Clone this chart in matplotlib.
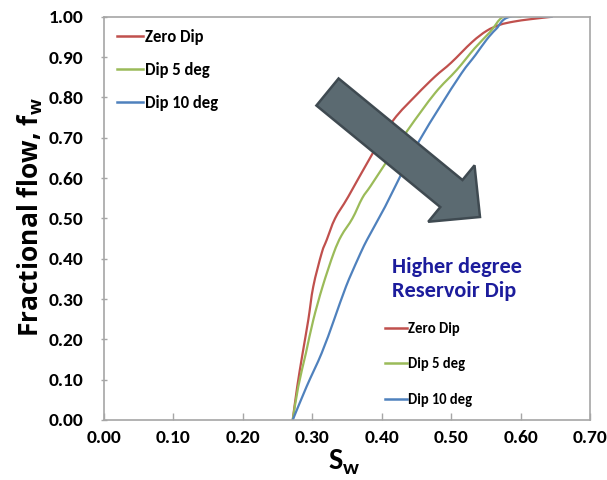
import matplotlib
matplotlib.use("Agg")
import matplotlib.pyplot as plt
from matplotlib.path import Path
from matplotlib.patches import FancyArrow, PathPatch
from matplotlib.transforms import IdentityTransform
from matplotlib.lines import Line2D

plt.rcParams['font.family'] = ['Carlito', 'DejaVu Sans']
plt.rcParams['font.weight'] = 'bold'
plt.rcParams['mathtext.fontset'] = 'custom'
plt.rcParams['mathtext.rm'] = 'Open Sans:bold'   # subscript of the y title
plt.rcParams['mathtext.bf'] = 'Carlito:bold'     # subscript of the x title

# fractional flow curves, water saturation vs fw
sw_zero = [0.272, 0.2785, 0.2863, 0.2944, 0.3016, 0.3137, 0.321, 0.333, 0.352, 0.386,
           0.417, 0.450, 0.477, 0.500, 0.530, 0.551, 0.570, 0.590, 0.614, 0.645]
fw_zero = [0.0, 0.083, 0.166, 0.248, 0.331, 0.414, 0.447, 0.50, 0.554, 0.658,
           0.744, 0.806, 0.852, 0.886, 0.937, 0.965, 0.980, 0.988, 0.994, 1.0]

sw_dip5 = [0.272, 0.280, 0.291, 0.3016, 0.315, 0.331, 0.342, 0.358, 0.372, 0.384,
           0.405, 0.438, 0.477, 0.508, 0.534, 0.556, 0.575, 0.60]
fw_dip5 = [0.0, 0.083, 0.166, 0.248, 0.331, 0.414, 0.457, 0.50, 0.55, 0.58,
           0.635, 0.72, 0.811, 0.868, 0.922, 0.962, 1.0, 1.0]

sw_dip10 = [0.272, 0.292, 0.3137, 0.3314, 0.3487, 0.366, 0.379, 0.405, 0.429, 0.455,
            0.484, 0.515, 0.535, 0.551, 0.565, 0.585, 0.645]
fw_dip10 = [0.0, 0.083, 0.166, 0.248, 0.331, 0.40, 0.447, 0.529, 0.612, 0.695,
            0.777, 0.86, 0.905, 0.943, 0.97, 1.0, 1.0]

labels = ['Zero Dip', 'Dip 5 deg', 'Dip 10 deg']
colors = ['#C0504D', '#9BBB59', '#4F81BD']

x_ticks = [0.0, 0.1, 0.2, 0.3, 0.4, 0.5, 0.6, 0.7]
y_ticks = [0.0, 0.1, 0.2, 0.3, 0.4, 0.5, 0.6, 0.7, 0.8, 0.9, 1.0]


def smooth_path(xs, ys):
    # Catmull-Rom through the points, as cubic Bezier segments (like a smoothed Excel line)
    pts = list(zip(xs, ys))
    n = len(pts)
    verts = [pts[0]]
    codes = [Path.MOVETO]
    for i in range(n - 1):
        p0 = pts[max(i - 1, 0)]
        p1 = pts[i]
        p2 = pts[i + 1]
        p3 = pts[min(i + 2, n - 1)]
        c1 = (p1[0] + (p2[0] - p0[0]) / 6, p1[1] + (p2[1] - p0[1]) / 6)
        c2 = (p2[0] - (p3[0] - p1[0]) / 6, p2[1] - (p3[1] - p1[1]) / 6)
        verts += [c1, c2, p2]
        codes += [Path.CURVE4] * 3
    return Path(verts, codes)


fig = plt.figure(figsize=(6.07, 4.8), dpi=100)
ax = fig.add_axes([0.171, 0.125, 0.801, 0.840])

for sw, fw, c in zip([sw_zero, sw_dip5, sw_dip10], [fw_zero, fw_dip5, fw_dip10], colors):
    ax.add_patch(PathPatch(smooth_path(sw, fw), fill=False, edgecolor=c, lw=1.6, capstyle='round'))
handles = [Line2D([], [], color=c, lw=1.8) for c in colors]

ax.set_xlim(0, 0.7)
ax.set_ylim(0, 1.0)
ax.set_xticks(x_ticks)
ax.set_yticks(y_ticks)
ax.set_xticklabels([f'{v:.2f}' for v in x_ticks])
ax.set_yticklabels([f'{v:.2f}' for v in y_ticks])
ax.tick_params(axis='both', labelsize=14, color='#A6A6A6', length=5, width=1)
ax.tick_params(axis='x', direction='in', pad=7)
ax.tick_params(axis='y', direction='inout', pad=12)
for s in ax.spines.values():
    s.set_color('#A6A6A6')
    s.set_linewidth(1.2)

fig.text(30 / 607, 0.548, r'Fractional flow, f$_\mathrm{w}$', family='Open Sans', fontsize=19,
         fontweight='bold', rotation=90, ha='center', va='center')
fig.text(0.568, 0.037, r'S$_\mathbf{w}$', fontsize=22, fontweight='bold', ha='center', va='center')

leg1 = ax.legend(handles=handles, labels=labels, loc='upper left', bbox_to_anchor=(0.027, 0.97),
                 frameon=False, fontsize=12, handlelength=1.55, handletextpad=0.12,
                 labelspacing=1.03, borderpad=0, borderaxespad=0)
ax.add_artist(leg1)
ax.legend(handles=handles, labels=labels, loc='upper left', bbox_to_anchor=(0.578, 0.243),
          frameon=False, fontsize=10.5, handlelength=1.5, handletextpad=0.1,
          labelspacing=1.47, borderpad=0, borderaxespad=0)

ax.text((392 - 104) / 486, (420 - 279) / 403, 'Higher degree\nReservoir Dip',
        transform=ax.transAxes, fontsize=16, fontweight='bold', color='#1C1C9C',
        va='center', ha='left', linespacing=1.2)

# big grey arrow, drawn in pixel space
arrow = FancyArrow(327.5, 388, 152.5, -125, width=35, head_width=73, head_length=37,
                   length_includes_head=True, facecolor='#5B6A71', edgecolor='#3F4A51',
                   linewidth=1.8, transform=IdentityTransform(), zorder=5)
fig.add_artist(arrow)

fig.savefig('out.png', dpi=100)
